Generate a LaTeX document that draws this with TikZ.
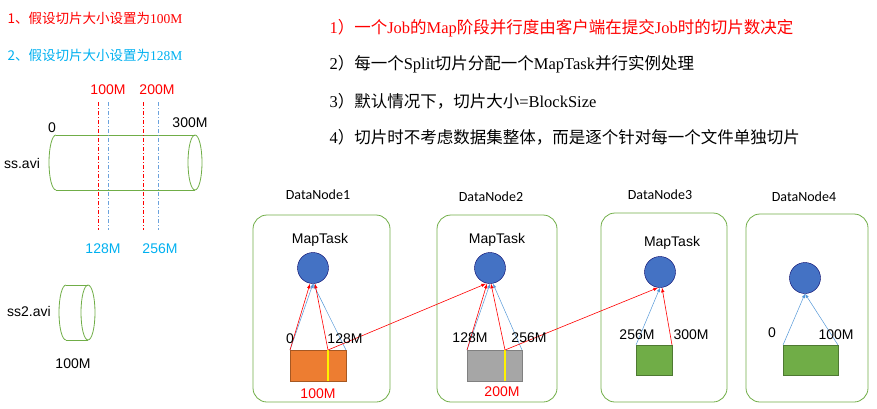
\documentclass[tikz,border=0pt]{standalone}
\usepackage{fontspec}
\setmainfont{Liberation Serif}
\newfontfamily\cjk{Noto Sans CJK SC}
\newfontfamily\ar{Liberation Sans}
\newfontfamily\carl{Carlito}
\begin{document}
\begin{tikzpicture}[x=1pt,y=-1pt,
  dn/.style={line width=0.8pt, rounded corners=14pt},
  circ/.style={circle, draw=blue!40!black, minimum size=31pt, inner sep=0pt},
  ra/.style={draw=red, -latex, line width=0.6pt},
  ba/.style={draw=cyan!60!blue!70, -latex, line width=0.5pt},
  lab/.style={font=\ar\fontsize{14}{16}\selectfont},
  dnl/.style={font=\carl\fontsize{14}{16}\selectfont},
  big/.style={anchor=west, font=\fontsize{16.5}{19}\selectfont}]
\useasboundingbox (0,0) rectangle (877,408);
\definecolor{lblue}{RGB}{0,176,240}
\definecolor{gbox}{RGB}{112,173,71}
\definecolor{gline}{RGB}{112,173,71}
\definecolor{obox}{RGB}{237,125,49}
\definecolor{cblue}{RGB}{68,114,196}
% left texts
\node[anchor=west, text=red, font=\fontsize{13.5}{16}\selectfont] (t1) at (4,18) {{\cjk 1、假设切片大小设置为}100M};
\node[anchor=west, text=lblue, font=\fontsize{13.5}{16}\selectfont] (t2) at (4,55) {{\cjk 2、假设切片大小设置为}128M};
\node[big, text=red] (r1) at (326,28) {1{\cjk ）一个}Job{\cjk 的}Map{\cjk 阶段并行度由客户端在提交}Job{\cjk 时的切片数决定}};
\node[big] (r2) at (326,64) {2{\cjk ）每一个}Split{\cjk 切片分配一个}MapTask{\cjk 并行实例处理}};
\node[big] (r3) at (326,101) {3{\cjk ）默认情况下，切片大小}=BlockSize};
\node[big] (r4) at (326,137) {4{\cjk ）切片时不考虑数据集整体，而是逐个针对每一个文件单独切片}};
% cylinder ss.avi
\draw[gline, line width=0.8pt] (56,135) -- (195,135) (56,190) -- (195,190);
\draw[gline, line width=0.8pt] (56,135) arc[start angle=270,end angle=90,x radius=7,y radius=27.5];
\draw[gline, line width=0.8pt] (195,162.5) ellipse[x radius=7,y radius=27.5];
\foreach \x in {98,143} \draw[red, dash pattern=on 4pt off 2pt on 1pt off 2pt, line width=0.6pt] (\x,102) -- (\x,230);
\foreach \x in {108,158} \draw[cyan!60!blue!60, dash pattern=on 4pt off 2pt on 1pt off 2pt, line width=0.6pt] (\x,102) -- (\x,230);
\node[lab, text=red] (l100) at (108,90) {100M};
\node[lab, text=red] (l200) at (157,90) {200M};
\node[lab, text=lblue] (l128) at (103,249) {128M};
\node[lab, text=lblue] (l256) at (160,249) {256M};
\node[lab] (z0) at (52,128) {0};
\node[lab] (z300) at (190,123) {300M};
\node[lab] (ss) at (22,163) {ss.avi};
% ss2
\draw[gline, line width=0.8pt] (66,285) -- (88,285) (66,340) -- (88,340);
\draw[gline, line width=0.8pt] (66,285) arc[start angle=270,end angle=90,x radius=7,y radius=27.5];
\draw[gline, line width=0.8pt] (88,312.5) ellipse[x radius=7,y radius=27.5];
\node[lab] (ss2) at (29,311) {ss2.avi};
\node[lab] (s2l) at (73,364) {100M};
% datanodes
\draw[dn, gline] (253,215) rectangle (390,402);
\draw[dn, gline] (437,215) rectangle (557,402);
\draw[dn, gline] (601,213) rectangle (727,402);
\draw[dn, gline] (746,214) rectangle (868,402);
\node[dnl] (d1) at (318,195) {DataNode1};
\node[dnl] (d2) at (491,197) {DataNode2};
\node[dnl] (d3) at (660,195) {DataNode3};
\node[dnl] (d4) at (804,197) {DataNode4};
\node[lab] (m1) at (320,240) {MapTask};
\node[lab] (m2) at (497,240) {MapTask};
\node[lab] (m3) at (672,243) {MapTask};
\node[circ, fill=cblue] (c1) at (313,268) {};
\node[circ, fill=cblue] (c2) at (490,268) {};
\node[circ, fill=cblue] (c3) at (660,272) {};
\node[circ, fill=cblue] (c4) at (805,278) {};
% blocks
\filldraw[fill=obox, draw=obox!70!black] (290,350) rectangle (346,381);
\filldraw[fill=gray!70, draw=gray] (467,350) rectangle (522,381);
\filldraw[fill=gbox, draw=gbox!70!black] (636,345) rectangle (672,375);
\filldraw[fill=gbox, draw=gbox!70!black] (783,345) rectangle (838,375);
\draw[yellow, line width=1.2pt] (328,350) -- (328,381);
\draw[yellow, line width=1.2pt] (505,350) -- (505,381);
\coordinate (a1) at (290,350); \coordinate (y1) at (328,350); \coordinate (b1) at (346,350);
\coordinate (a2) at (467,350); \coordinate (y2) at (505,350); \coordinate (b2) at (522,350);
\coordinate (a3) at (636,345); \coordinate (b3) at (672,345);
\coordinate (a4) at (783,345); \coordinate (b4) at (838,345);
\draw[ba] (a1) -- (c1.south); \draw[ba] (b1) -- (c1.south);
\draw[ra] (a1) -- ([xshift=-3pt]c1.south); \draw[ra] (y1) -- ([xshift=2pt]c1.south);
\draw[ba] (a2) -- (c2.south); \draw[ba] (b2) -- ([xshift=3pt]c2.south);
\draw[ra] (a2) -- ([xshift=-3pt]c2.south); \draw[ra] (y2) -- ([xshift=1pt]c2.south);
\draw[ra] (y1) -- ([xshift=-4pt]c2.south);
\draw[ba] (a3) -- (c3.south); \draw[ra] (b3) -- ([xshift=2pt]c3.south);
\draw[ra] (y2) -- ([xshift=-2pt]c3.south);
\draw[ba] (a4) -- (c4.south); \draw[ba] (b4) -- (c4.south);
\node[lab] (n1a) at (290,339) {0};
\node[lab] (n1b) at (345,339) {128M};
\node[lab] (n2a) at (470,338) {128M};
\node[lab] (n2b) at (529,338) {256M};
\node[lab] (n3a) at (637,335) {256M};
\node[lab] (n3b) at (691,335) {300M};
\node[lab] (n4a) at (772,333) {0};
\node[lab] (n4b) at (836,335) {100M};
\node[lab, text=red] (p1) at (318,394) {100M};
\node[lab, text=red] (p2) at (502,392) {200M};
\end{tikzpicture}
\end{document}
